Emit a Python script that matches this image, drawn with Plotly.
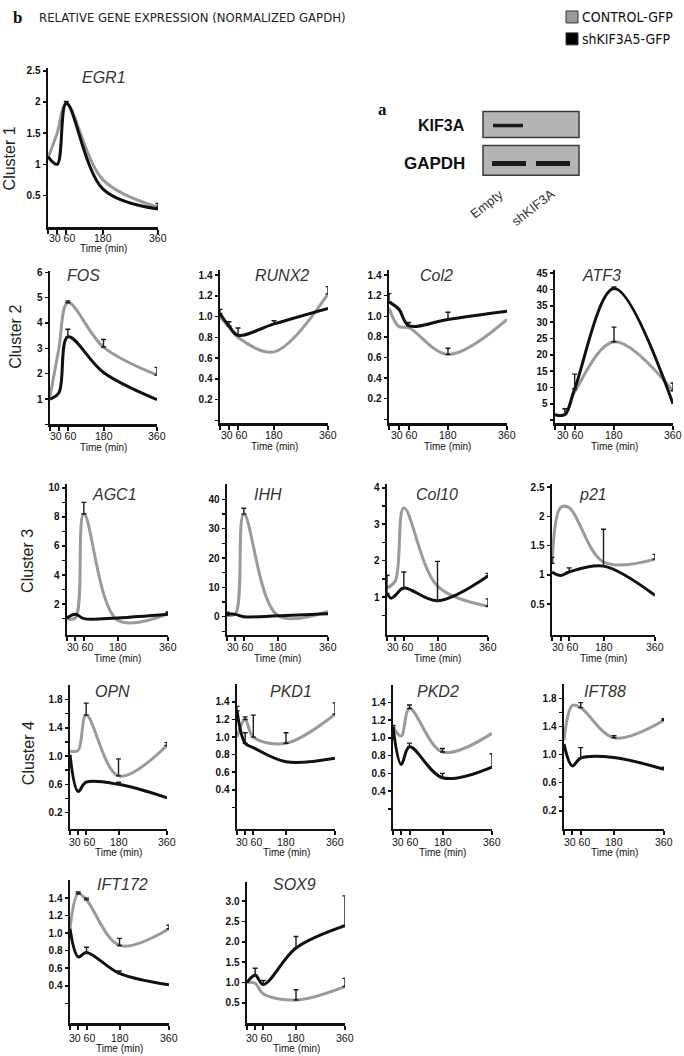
import plotly.graph_objects as go

# ---------------- data ----------------
T5 = [0, 30, 60, 180, 360]
T6 = [0, 15, 30, 60, 180, 360]

EGR1_CTRL = [1.1, 1.5, 1.97, 0.75, 0.31]
EGR1_CTRL_ERR = [None, None, None, None, 0.06]
EGR1_SH = [1.12, 1.0, 1.98, 0.6, 0.28]
EGR1_SH_ERR = [None, None, 0.03, None, None]

FOS_CTRL = [1.1, 3.0, 4.8, 3.05, 1.95]
FOS_CTRL_ERR = [None, None, 0.07, 0.3, 0.3]
FOS_SH = [1.0, 1.25, 3.45, 2.05, 0.98]
FOS_SH_ERR = [None, None, 0.3, None, None]

RUNX2_CTRL = [1.0, 0.9, 0.8, 0.66, 1.22]
RUNX2_CTRL_ERR = [None, None, None, None, 0.07]
RUNX2_SH = [1.03, 0.91, 0.82, 0.93, 1.08]
RUNX2_SH_ERR = [0.04, 0.04, 0.07, 0.03, None]

COL2_CTRL = [1.08, 0.9, 0.89, 0.63, 0.97]
COL2_CTRL_ERR = [None, None, None, 0.06, None]
COL2_SH = [1.14, 1.07, 0.91, 0.97, 1.05]
COL2_SH_ERR = [0.08, None, 0.03, 0.07, None]

ATF3_CTRL = [1.7, 1.7, 8.6, 24.0, 9.0]
ATF3_CTRL_ERR = [None, None, None, 4.5, 2.4]
ATF3_SH = [1.7, 1.7, 9.6, 40.3, 5.0]
ATF3_SH_ERR = [None, 1.8, 4.5, 0.5, None]

AGC1_CTRL = [1.0, 1.05, 8.2, 0.9, 1.35]
AGC1_CTRL_ERR = [None, None, 0.8, None, 0.1]
AGC1_SH = [1.05, 1.3, 1.0, 1.05, 1.3]
AGC1_SH_ERR = [None, None, None, None, None]

IHH_CTRL = [0.5, 1.0, 35.0, 0.5, 1.8]
IHH_CTRL_ERR = [1.0, None, 2.0, None, None]
IHH_SH = [1.0, 0.8, 0.0, 0.3, 1.0]
IHH_SH_ERR = [None, None, None, None, None]

COL10_CTRL = [1.25, 1.45, 3.45, 1.3, 0.75]
COL10_CTRL_ERR = [None, None, None, None, 0.2]
COL10_SH = [1.1, 0.97, 1.05, 1.25, 0.9, 1.58]
COL10_SH_ERR = [0.5, None, None, 0.44, 1.08, 0.07]

P21_CTRL = [1.2, 2.15, 2.15, 1.22, 1.27]
P21_CTRL_ERR = [0.1, None, None, None, 0.08]
P21_SH = [1.05, 0.99, 1.05, 1.15, 0.65]
P21_SH_ERR = [None, None, 0.07, 0.63, None]

OPN_CTRL = [1.07, 1.08, 1.58, 0.72, 1.15]
OPN_CTRL_ERR = [None, None, 0.17, 0.24, 0.04]
OPN_SH = [1.02, 0.5, 0.63, 0.6, 0.41]
OPN_SH_ERR = [None, None, None, 0.03, None]

PKD1_CTRL = [1.0, 1.2, 1.0, 0.93, 1.26]
PKD1_CTRL_ERR = [None, 0.03, 0.25, 0.12, 0.13]
PKD1_SH = [1.3, 0.93, 0.88, 0.72, 0.76]
PKD1_SH_ERR = [0.05, 0.12, None, None, None]

PKD2_CTRL = [1.12, 1.02, 1.33, 0.84, 1.05]
PKD2_CTRL_ERR = [None, None, 0.04, 0.04, None]
PKD2_SH = [1.12, 0.7, 0.9, 0.55, 0.67]
PKD2_SH_ERR = [0.02, None, 0.04, 0.05, 0.15]

IFT88_CTRL = [1.2, 1.7, 1.67, 1.24, 1.49]
IFT88_CTRL_ERR = [None, None, 0.07, 0.03, 0.02]
IFT88_SH = [1.15, 0.84, 0.95, 0.96, 0.79]
IFT88_SH_ERR = [None, None, 0.15, None, 0.03]

IFT172_CTRL = [1.05, 1.45, 1.38, 0.86, 1.05]
IFT172_CTRL_ERR = [None, 0.02, 0.02, 0.08, 0.04]
IFT172_SH = [1.05, 0.73, 0.78, 0.54, 0.41]
IFT172_SH_ERR = [None, None, 0.06, 0.03, None]

SOX9_CTRL = [1.0, 0.98, 0.72, 0.57, 0.9]
SOX9_CTRL_ERR = [None, None, None, 0.25, 0.2]
SOX9_SH = [1.0, 1.18, 0.95, 1.85, 2.4]
SOX9_SH_ERR = [None, 0.17, 0.1, 0.28, 0.73]

X_TICKS = [0, 30, 60, 180, 360]
X_LABELS = [(45, "30 60"), (180, "180"), (360, "360")]
SERIES_NAMES = ["CONTROL-GFP", "shKIF3A5-GFP"]

# ---------------- layout (pixels of the 684x1056 page) ----------------
W, H = 684, 1056
GREY = "#9a9a9a"
BLACK = "#111111"
FONT = "Liberation Sans, Arial, sans-serif"
NARROW = "Liberation Sans Narrow, DejaVu Sans Condensed, Liberation Sans, sans-serif"

# name, series..., x-left px, x-right px (t=360), y-bottom px, y-top px, yrange, ytickvals,
# minor ticks, fmt, title(x,y), label offsets (tick labels, axis title)
PANELS = [
    ("EGR1", T5, EGR1_CTRL, EGR1_CTRL_ERR, T5, EGR1_SH, EGR1_SH_ERR,
     48, 158, 224, 64, [-0.01, 2.55], [0.5, 1, 1.5, 2, 2.5], [], "g", (104, 74), (11, 21)),
    ("FOS", T5, FOS_CTRL, FOS_CTRL_ERR, T5, FOS_SH, FOS_SH_ERR,
     50, 157, 422, 268, [0, 6.05], [1, 2, 3, 4, 5, 6], [0], "g", (83, 273), (12, 23)),
    ("RUNX2", T5, RUNX2_CTRL, RUNX2_CTRL_ERR, T5, RUNX2_SH, RUNX2_SH_ERR,
     220, 328, 421, 267, [-0.03, 1.45], [0.2, 0.4, 0.6, 0.8, 1.0, 1.2, 1.4], [0], ".1f", (282, 273), (12, 23)),
    ("Col2", T5, COL2_CTRL, COL2_CTRL_ERR, T5, COL2_SH, COL2_SH_ERR,
     389, 507, 421, 267, [-0.04, 1.45], [0.2, 0.4, 0.6, 0.8, 1.0, 1.2, 1.4], [0], ".1f", (436, 273), (12, 23)),
    ("ATF3", T5, ATF3_CTRL, ATF3_CTRL_ERR, T5, ATF3_SH, ATF3_SH_ERR,
     555, 673, 421, 267, [-1, 46], [5, 10, 15, 20, 25, 30, 35, 40, 45], [0], "g", (601, 273), (12, 23)),
    ("AGC1", T5, AGC1_CTRL, AGC1_CTRL_ERR, T5, AGC1_SH, AGC1_SH_ERR,
     67, 168, 633, 482, [-0.1, 10.25], [2, 4, 6, 8, 10], [1, 3, 5, 7, 9], "g", (114, 492), (12, 24)),
    ("IHH", T5, IHH_CTRL, IHH_CTRL_ERR, T5, IHH_SH, IHH_SH_ERR,
     227, 328, 633, 482, [-6.1, 45.2], [0, 10, 20, 30, 40], [-5, 5, 15, 25, 35], "g", (268, 492), (12, 24)),
    ("Col10", T5, COL10_CTRL, COL10_CTRL_ERR, T6, COL10_SH, COL10_SH_ERR,
     387, 488, 633, 482, [-0.03, 4.1], [1, 2, 3, 4], [0.5, 1.5, 2.5, 3.5], "g", (437, 492), (12, 24)),
    ("p21", T5, P21_CTRL, P21_CTRL_ERR, T5, P21_SH, P21_SH_ERR,
     552, 655, 633, 482, [-0.02, 2.55], [0.5, 1, 1.5, 2, 2.5], [], "g", (593, 492), (12, 24)),
    ("OPN", T5, OPN_CTRL, OPN_CTRL_ERR, T5, OPN_SH, OPN_SH_ERR,
     70, 167, 828, 684, [-0.03, 2.0], [0.2, 0.6, 1.0, 1.4, 1.8], [0.4, 0.8, 1.2, 1.6], ".1f", (112, 690), (13, 24)),
    ("PKD1", T5, PKD1_CTRL, PKD1_CTRL_ERR, T5, PKD1_SH, PKD1_SH_ERR,
     237, 335, 828, 683, [-0.045, 1.6], [0.4, 0.6, 0.8, 1.0, 1.2, 1.4], [0.2], ".1f", (291, 690), (13, 24)),
    ("PKD2", T5, PKD2_CTRL, PKD2_CTRL_ERR, T5, PKD2_SH, PKD2_SH_ERR,
     393, 492, 828, 684, [-0.025, 1.59], [0.4, 0.6, 0.8, 1.0, 1.2, 1.4], [0.2], ".1f", (438, 690), (13, 24)),
    ("IFT88", T5, IFT88_CTRL, IFT88_CTRL_ERR, T5, IFT88_SH, IFT88_SH_ERR,
     564, 664, 828, 683, [-0.057, 2.0], [0.2, 0.6, 1.0, 1.4, 1.8], [0.4, 0.8, 1.2, 1.6], ".1f", (605, 690), (13, 24)),
    ("IFT172", T5, IFT172_CTRL, IFT172_CTRL_ERR, T5, IFT172_SH, IFT172_SH_ERR,
     70, 169, 1023, 879, [-0.026, 1.61], [0.4, 0.6, 0.8, 1.0, 1.2, 1.4], [0.2], ".1f", (122, 884), (15, 25)),
    ("SOX9", T5, SOX9_CTRL, SOX9_CTRL_ERR, T5, SOX9_SH, SOX9_SH_ERR,
     247, 345, 1023, 881, [0, 3.48], [0.5, 1.0, 1.5, 2.0, 2.5, 3.0], [], ".1f", (294, 884), (15, 25)),
]

fig = go.Figure()
annotations = []
shapes = []


def px_x(p):
    return p / W


def px_y(p):
    return 1 - p / H


def text(x, y, s, size, family=FONT, color="#111", xanchor="center", angle=0, xref="paper"):
    annotations.append(dict(x=x, y=y, xref=xref, yref="paper", text=s, showarrow=False,
                            xanchor=xanchor, yanchor="middle", textangle=angle,
                            font=dict(family=family, size=size, color=color)))


for i, (name, tc, vc, ec, ts, vs, es, xl, xr, yb, yt, yr, ytv, ymin, fmt, tpos, loff) in enumerate(PANELS, start=1):
    xa, ya = f"x{i}", f"y{i}"
    for t, v, col, nm in ((tc, vc, GREY, SERIES_NAMES[0]), (ts, vs, BLACK, SERIES_NAMES[1])):
        fig.add_trace(go.Scatter(x=t, y=v, mode="lines", xaxis=xa, yaxis=ya, name=nm,
                                 line=dict(color=col, width=3, shape="spline", smoothing=1.0),
                                 showlegend=False, hoverinfo="skip"))
    for t, v, e in ((tc, vc, ec), (ts, vs, es)):
        idx = [k for k, val in enumerate(e) if val is not None]
        if idx:
            fig.add_trace(go.Scatter(
                x=[t[k] for k in idx], y=[v[k] for k in idx], mode="markers",
                xaxis=xa, yaxis=ya, marker=dict(size=1, opacity=0),
                error_y=dict(type="data", symmetric=False, array=[e[k] for k in idx],
                             arrayminus=[0] * len(idx), color="#1a1a1a", thickness=1.4, width=2.5),
                showlegend=False, hoverinfo="skip"))
    ttext = [format(v, fmt) for v in ytv]
    fig.update_layout(**{
        f"xaxis{i}": dict(domain=[px_x(xl), px_x(xr)], range=[0, 360], anchor=ya,
                          showline=True, linewidth=2.5, linecolor="#111",
                          ticks="outside", ticklen=4, tickwidth=2, tickcolor="#111",
                          tickvals=X_TICKS, showticklabels=False,
                          showgrid=False, zeroline=False, fixedrange=True),
        f"yaxis{i}": dict(domain=[px_y(yb), px_y(yt)], range=yr, anchor=xa,
                          showline=True, linewidth=2.5, linecolor="#111",
                          ticks="outside", ticklen=3, tickwidth=1.5, tickcolor="#111",
                          tickvals=ytv, ticktext=ttext,
                          minor=dict(tickvals=ymin, ticks="outside", ticklen=3, tickwidth=1.5, tickcolor="#111"),
                          tickfont=dict(family=FONT, size=10, color="#111", weight="bold"),
                          showgrid=False, zeroline=False, fixedrange=True),
    })
    text(px_x(tpos[0]), px_y(tpos[1]), f"<i>{name}</i>", 16, color="#333")
    for xv, lab in X_LABELS:
        text(xv, px_y(yb + loff[0]), lab, 10.5, xref=xa)
    text(180, px_y(yb + loff[1]), "Time (min)", 10, xref=xa)

# cluster labels
for txt, cx, cy in (("Cluster 1", 9, 155), ("Cluster 2", 16, 334), ("Cluster 3", 28, 559), ("Cluster 4", 28, 752)):
    text(px_x(cx), px_y(cy), txt, 16, color="#222", angle=-90)

# header
text(px_x(11), px_y(14), "<b>b</b>", 17, family="Liberation Serif, serif", xanchor="left")
text(px_x(37), px_y(14), "RELATIVE GENE EXPRESSION (NORMALIZED GAPDH)", 13, family=NARROW,
     color="#222", xanchor="left")

# legend
for (name, col, yc) in ((SERIES_NAMES[0], GREY, 13), (SERIES_NAMES[1], "#000", 35)):
    shapes.append(dict(type="rect", xref="paper", yref="paper", x0=px_x(566), x1=px_x(578),
                       y0=px_y(yc + 6), y1=px_y(yc - 6), fillcolor=col, line=dict(color="#333", width=1)))
    text(px_x(580), px_y(yc), name, 14, family=NARROW, xanchor="left")

# panel a: western blot
text(px_x(376), px_y(106), "<b>a</b>", 17, family="Liberation Serif, serif", xanchor="left")
for (yy0, yy1) in ((108, 134), (142, 172)):
    shapes.append(dict(type="rect", xref="paper", yref="paper", x0=px_x(483), x1=px_x(579),
                       y0=px_y(yy1), y1=px_y(yy0), fillcolor="#b4b4b4", line=dict(color="#3a3a3a", width=1.5)))
for (bx0, bx1, by, bw) in ((493, 523, 122, 3.5), (492, 526, 160, 5), (536, 570, 160, 5)):
    shapes.append(dict(type="line", xref="paper", yref="paper", x0=px_x(bx0), x1=px_x(bx1),
                       y0=px_y(by), y1=px_y(by), line=dict(color="#1a1a1a", width=bw)))
text(px_x(467), px_y(122), "<b>KIF3A</b>", 16, xanchor="right")
text(px_x(467), px_y(160), "<b>GAPDH</b>", 17, xanchor="right")
for txt, cx, cy in (("Empty", 486, 201), ("shKIF3A", 533, 204)):
    text(px_x(cx), px_y(cy), txt, 13, color="#333", angle=-38)

fig.update_layout(width=W, height=H, margin=dict(l=0, r=0, t=0, b=0),
                  paper_bgcolor="white", plot_bgcolor="white", showlegend=False,
                  annotations=annotations, shapes=shapes)

# remove the page's default body margin so the figure starts at the window's corner
fig.write_html("out.html", config={"displayModeBar": False, "staticPlot": True},
               post_script="document.body.style.margin='0';")
